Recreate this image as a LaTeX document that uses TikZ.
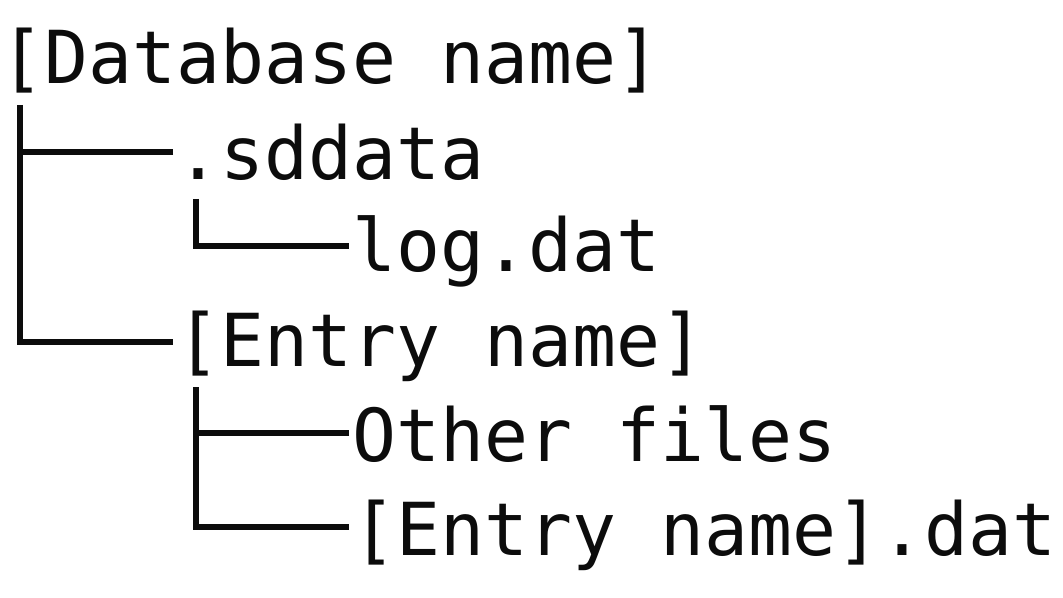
\documentclass[tikz,border=0pt]{standalone}
\usepackage{fontspec}
\newfontfamily\dbfont{DejaVu Sans Mono}
\definecolor{ink}{RGB}{12,12,12}
\tikzset{
  txt/.style={anchor=base west, inner sep=0pt, text=ink, font=\dbfont\fontsize{54.8pt}{60pt}\selectfont},
  tree/.style={draw=ink, line width=4.5pt}
}
\begin{document}
\begin{tikzpicture}[x=0.75pt,y=-0.75pt]
\useasboundingbox (0,0) rectangle (1063,598);
\node[txt] (db) at (0,84) {[Database name]};
\node[txt] (sd) at (176,180) {.sddata};
\node[txt] (log) at (352,272) {log.dat};
\node[txt] (en) at (176,367) {[Entry name]};
\node[txt] (of) at (352,461) {Other files};
\node[txt] (ed) at (352,555) {[Entry name].dat};
\coordinate (t0) at (20,105);
\coordinate (t1) at (196,199);
\coordinate (t2) at (196,387);
\draw[tree] (t0) |- ([xshift=-2.25pt,yshift=19pt]en.base west);
\draw[tree] ([xshift=-2.25pt,yshift=21pt]sd.base west) -| (t0);
\draw[tree] (t1) |- ([xshift=-2.25pt,yshift=19.5pt]log.base west);
\draw[tree] (t2) |- ([xshift=-2.25pt,yshift=21pt]ed.base west);
\draw[tree] ([xshift=-2.25pt,yshift=21pt]of.base west) -| (t2);
\end{tikzpicture}
\end{document}
